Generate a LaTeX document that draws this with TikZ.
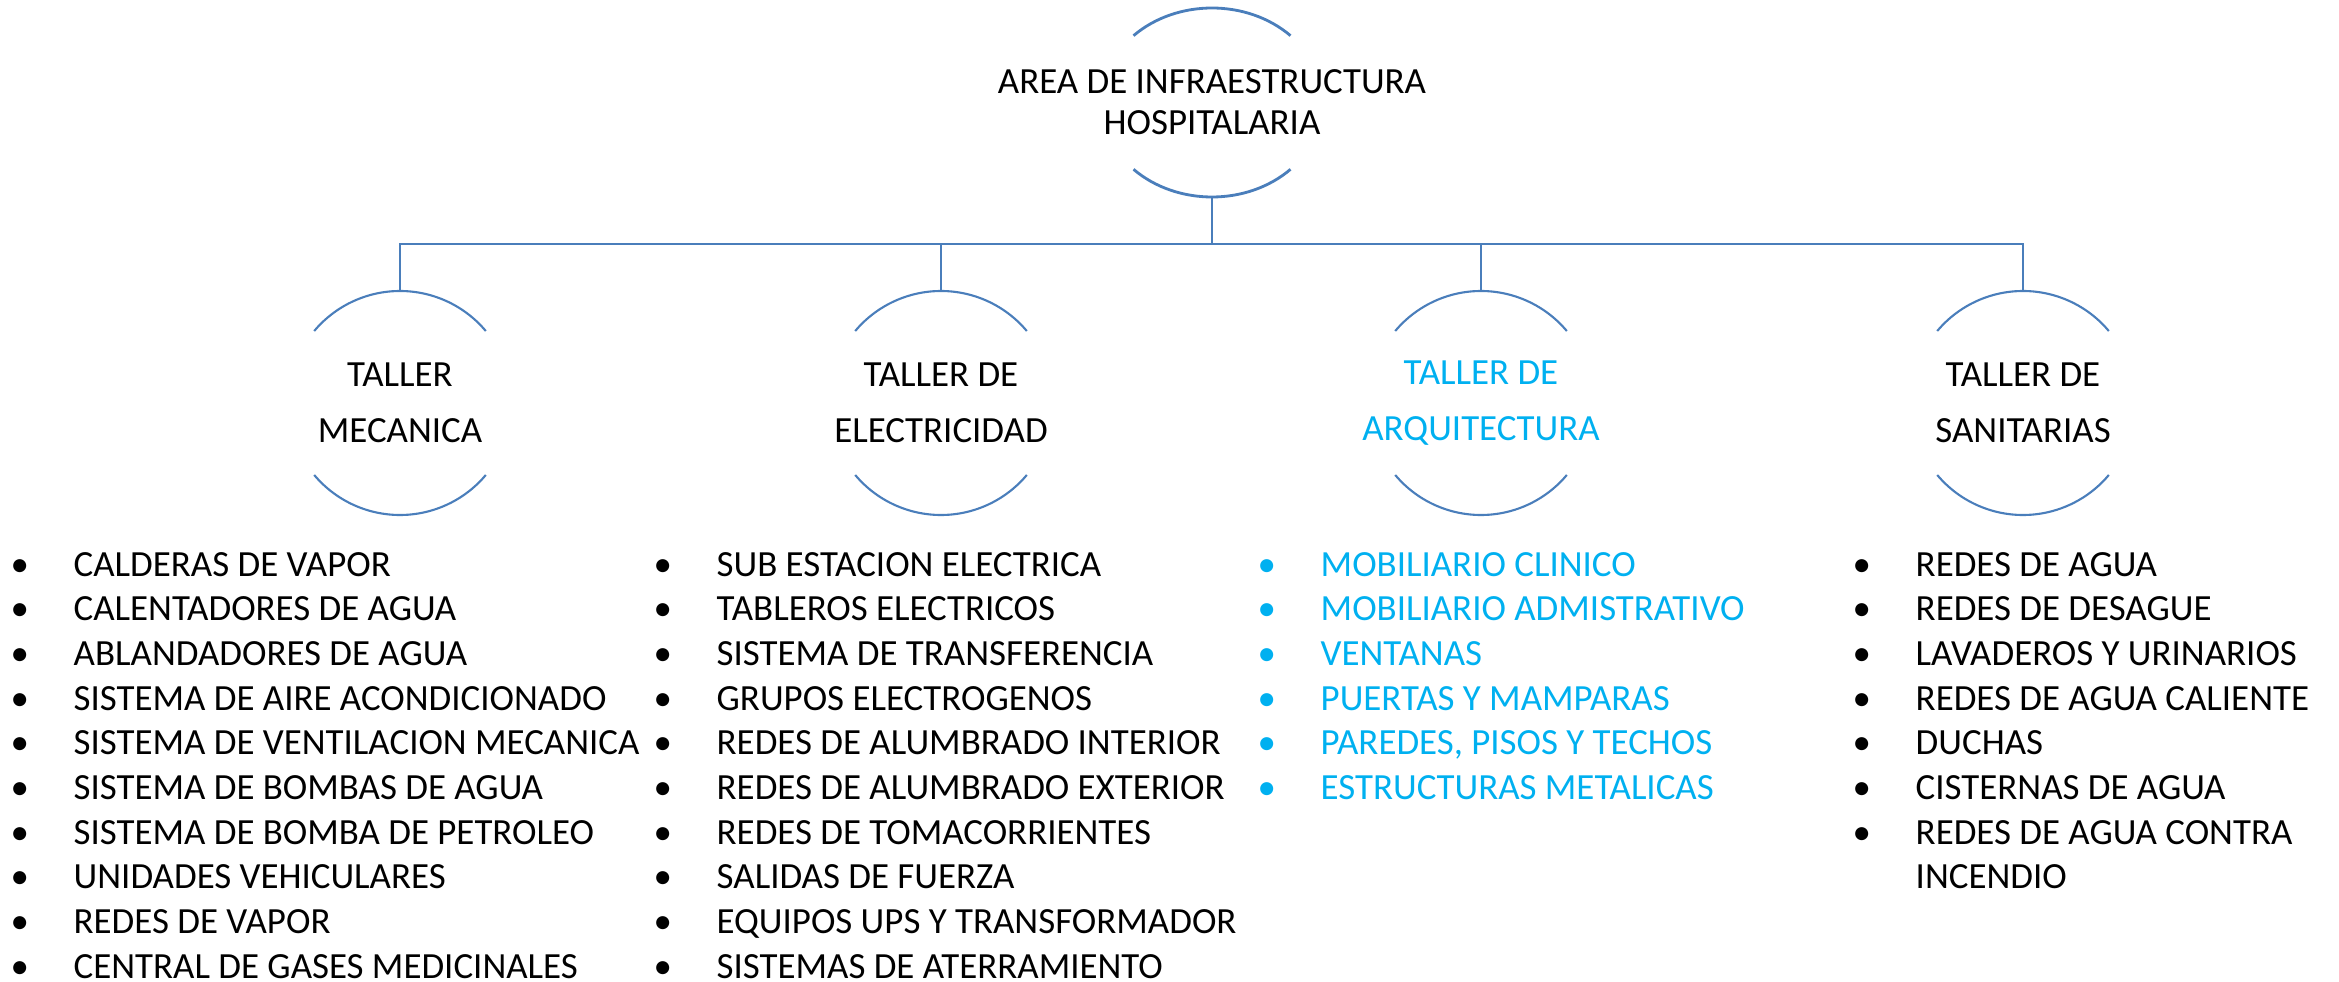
\documentclass[tikz,border=0pt]{standalone}
\usepackage{fontspec}
\setmainfont{Carlito}
\usetikzlibrary{calc,shapes.geometric}
\definecolor{arcblue}{HTML}{4A7EBB}
\definecolor{arqblue}{HTML}{00B0F0}
\def\bul{\llap{\makebox[10.8mm]{\textbullet}}}
\def\tallercaps(#1){\draw[tallerline] (#1.40) arc[start angle=40, end angle=140, radius=1.12];
	\draw[tallerline] (#1.220) arc[start angle=220, end angle=320, radius=1.12];}
\tikzset{
	busline/.style={draw=arcblue, line width=0.8pt},
	tallerline/.style={draw=arcblue, line width=0.6pt},
	hub/.style={ellipse, minimum width=2.22cm, minimum height=1.89cm, inner sep=0pt, outer sep=0pt},
	taller/.style={circle, minimum size=2.24cm, inner sep=0pt, outer sep=0pt},
	hubtxt/.style={align=center, inner sep=0pt, font=\fontsize{10.5}{11.7}\selectfont},
	tallertxt/.style={align=center, inner sep=0pt, font=\fontsize{10.5}{15.9}\selectfont},
	item/.style={anchor=base west, inner sep=0pt, font=\fontsize{10.5}{12.7}\selectfont},
}

\begin{document}
\begin{tikzpicture}
			%%%%% START %%%%%
			\useasboundingbox (0, 0) rectangle (23.39, -9.82);
			
			\node[hub, label={[hubtxt]center:AREA DE INFRAESTRUCTURA\\HOSPITALARIA}] (area) at (12.12, -1.025) {};
			\draw[busline] ([shift={(45:1.11 and 0.945)}]area.center) arc[start angle=45, end angle=135, x radius=1.11, y radius=0.945];
			\draw[busline] ([shift={(225:1.11 and 0.945)}]area.center) arc[start angle=225, end angle=315, x radius=1.11, y radius=0.945];
			
			\node[taller, label={[tallertxt]center:TALLER\\MECANICA}] (mec) at (4.00, -4.03) {};
			\node[taller, label={[tallertxt]center:TALLER DE\\ELECTRICIDAD}] (ele) at (9.41, -4.03) {};
			\node[taller, label={[tallertxt, text=arqblue]center:TALLER DE\\ARQUITECTURA}] (arq) at (14.81, -4.03) {};
			\node[taller, label={[tallertxt]center:TALLER DE\\SANITARIAS}] (san) at (20.23, -4.03) {};
			\tallercaps(mec)
			\tallercaps(ele)
			\tallercaps(arq)
			\tallercaps(san)
			
			\coordinate (bus) at ($(area.south)+(0, -0.47)$);
			\draw[busline] (area.south) -- (bus) -| (mec.north);
			\draw[busline] (area.south) -- (bus) -| (ele.north);
			\draw[busline] (area.south) -- (bus) -| (arq.north);
			\draw[busline] (area.south) -- (bus) -| (san.north);
			
			\node[item] (mec1) at (0.73, -5.760) {\bul CALDERAS DE VAPOR};
			\node[item] (mec2) at (0.73, -6.207) {\bul CALENTADORES DE AGUA};
			\node[item] (mec3) at (0.73, -6.654) {\bul ABLANDADORES DE AGUA};
			\node[item] (mec4) at (0.73, -7.101) {\bul SISTEMA DE AIRE ACONDICIONADO};
			\node[item] (mec5) at (0.73, -7.548) {\bul SISTEMA DE VENTILACION MECANICA};
			\node[item] (mec6) at (0.73, -7.995) {\bul SISTEMA DE BOMBAS DE AGUA};
			\node[item] (mec7) at (0.73, -8.442) {\bul SISTEMA DE BOMBA DE PETROLEO};
			\node[item] (mec8) at (0.73, -8.889) {\bul UNIDADES VEHICULARES};
			\node[item] (mec9) at (0.73, -9.336) {\bul REDES DE VAPOR};
			\node[item] (mec10) at (0.73, -9.783) {\bul CENTRAL DE GASES MEDICINALES};
			
			\node[item] (ele1) at (7.16, -5.760) {\bul SUB ESTACION ELECTRICA};
			\node[item] (ele2) at (7.16, -6.207) {\bul TABLEROS ELECTRICOS};
			\node[item] (ele3) at (7.16, -6.654) {\bul SISTEMA DE TRANSFERENCIA};
			\node[item] (ele4) at (7.16, -7.101) {\bul GRUPOS ELECTROGENOS};
			\node[item] (ele5) at (7.16, -7.548) {\bul REDES DE ALUMBRADO INTERIOR};
			\node[item] (ele6) at (7.16, -7.995) {\bul REDES DE ALUMBRADO EXTERIOR};
			\node[item] (ele7) at (7.16, -8.442) {\bul REDES DE TOMACORRIENTES};
			\node[item] (ele8) at (7.16, -8.889) {\bul SALIDAS DE FUERZA};
			\node[item] (ele9) at (7.16, -9.336) {\bul EQUIPOS UPS Y TRANSFORMADOR};
			\node[item] (ele10) at (7.16, -9.783) {\bul SISTEMAS DE ATERRAMIENTO};
			
			\node[item, text=arqblue] (arq1) at (13.20, -5.760) {\bul MOBILIARIO CLINICO};
			\node[item, text=arqblue] (arq2) at (13.20, -6.207) {\bul MOBILIARIO ADMISTRATIVO};
			\node[item, text=arqblue] (arq3) at (13.20, -6.654) {\bul VENTANAS};
			\node[item, text=arqblue] (arq4) at (13.20, -7.101) {\bul PUERTAS Y MAMPARAS};
			\node[item, text=arqblue] (arq5) at (13.20, -7.548) {\bul PAREDES, PISOS Y TECHOS};
			\node[item, text=arqblue] (arq6) at (13.20, -7.995) {\bul ESTRUCTURAS METALICAS};
			
			\node[item] (san1) at (19.15, -5.760) {\bul REDES DE AGUA};
			\node[item] (san2) at (19.15, -6.207) {\bul REDES DE DESAGUE};
			\node[item] (san3) at (19.15, -6.654) {\bul LAVADEROS Y URINARIOS};
			\node[item] (san4) at (19.15, -7.101) {\bul REDES DE AGUA CALIENTE};
			\node[item] (san5) at (19.15, -7.548) {\bul DUCHAS};
			\node[item] (san6) at (19.15, -7.995) {\bul CISTERNAS DE AGUA};
			% two lines: base is the second line
			\node[item, align=left] (san7) at (19.15, -8.889) {\bul REDES DE AGUA CONTRA\\INCENDIO};
			
			%%%%% END %%%%%
\end{tikzpicture}
\end{document}
